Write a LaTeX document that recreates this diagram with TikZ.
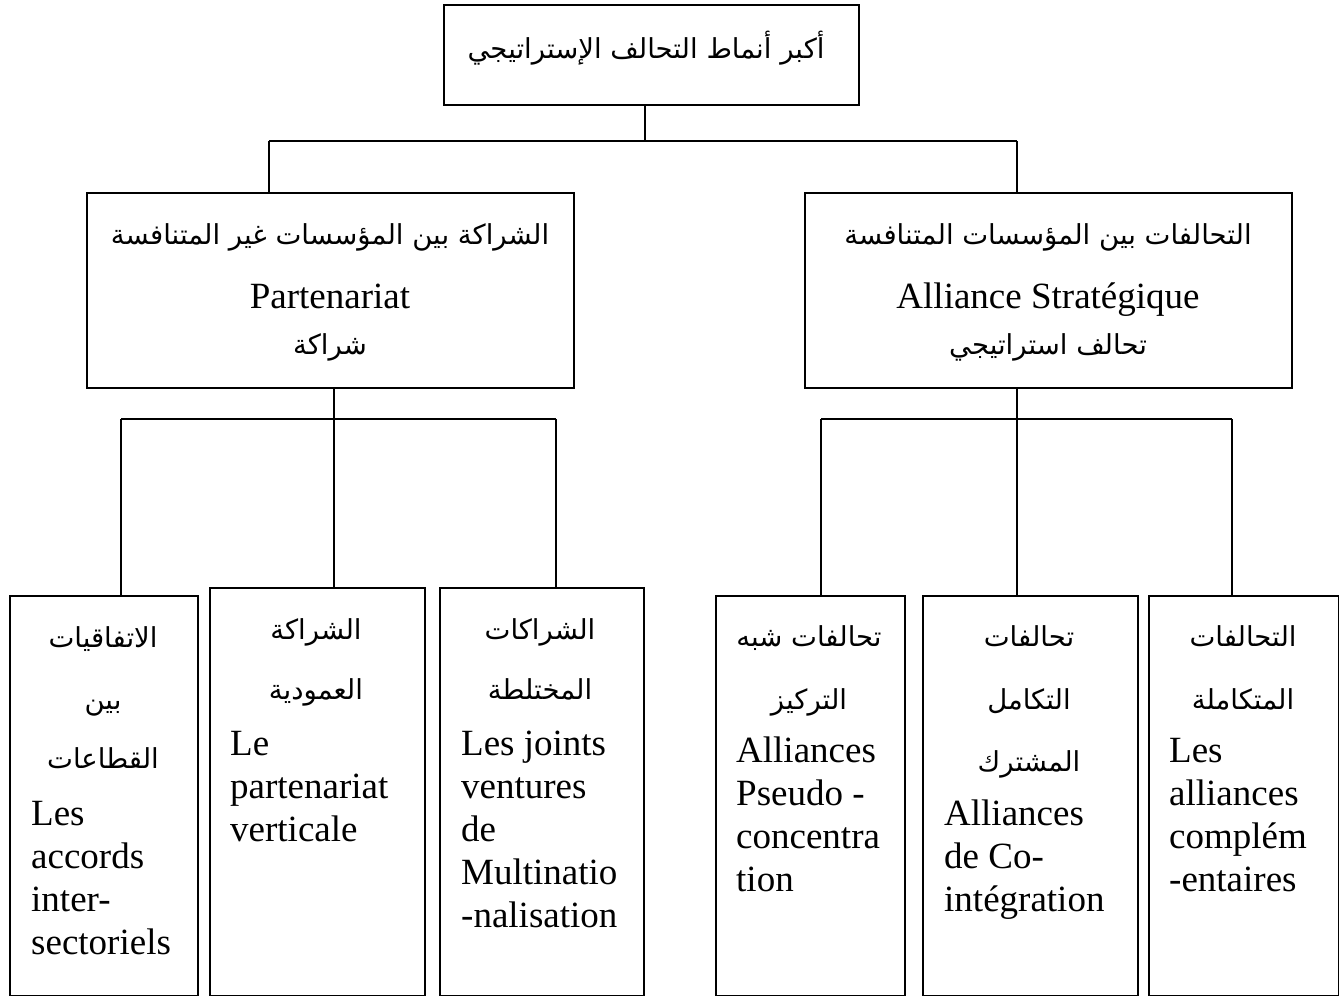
\documentclass[tikz,border=0pt]{standalone}
\usepackage{fontspec}
\setmainfont{Liberation Serif}
\newfontfamily\arabicfont[Script=Arabic]{DejaVu Sans}
\TeXXeTstate=1
\newcommand{\artext}[1]{{\arabicfont\beginR #1\endR}}
\tikzset{
  box/.style={draw, line width=1.7pt, inner sep=0pt, anchor=north west},
  artx/.style={font=\arabicfont\fontsize{27.5}{30}\selectfont, inner sep=0pt, anchor=base},
  lat/.style={font=\fontsize{37}{43}\selectfont, inner sep=0pt, anchor=north west, align=left},
  midlat/.style={font=\fontsize{37}{43}\selectfont, inner sep=0pt, anchor=base},
  conn/.style={line width=1.6pt}
}
\begin{document}
\begin{tikzpicture}[x=1pt,y=-1pt]
\useasboundingbox (0,0) rectangle (1339,996);
% boxes
\node[box, minimum width=415pt, minimum height=100pt] (top) at (443,4) {};
\node[box, minimum width=487pt, minimum height=195pt] (lmid) at (86,192) {};
\node[box, minimum width=487pt, minimum height=195pt] (rmid) at (804,192) {};
\node[box, minimum width=188pt, minimum height=400pt] (b1) at (9,595) {};
\node[box, minimum width=215pt, minimum height=408pt] (b2) at (209,587) {};
\node[box, minimum width=204pt, minimum height=408pt] (b3) at (439,587) {};
\node[box, minimum width=189pt, minimum height=400pt] (b4) at (715,595) {};
\node[box, minimum width=215pt, minimum height=400pt] (b5) at (922,595) {};
\node[box, minimum width=190pt, minimum height=400pt] (b6) at (1148,595) {};
% junction coordinates
\coordinate (tv) at (645,141);
\coordinate (h1L) at (269,141);
\coordinate (h1R) at (1017,141);
\coordinate (h2a) at (121,419);
\coordinate (h2b) at (556,419);
\coordinate (lv) at (334,419);
\coordinate (h3a) at (821,419);
\coordinate (h3b) at (1232,419);
\coordinate (rv) at (1017,419);
% connectors
\draw[conn] (top.south -| tv) -- (tv);
\draw[conn] (h1L) -- (h1R);
\draw[conn] (h1L) -- (h1L |- lmid.north);
\draw[conn] (h1R) -- (h1R |- rmid.north);
\draw[conn] (h2a) -- (h2b);
\draw[conn] (lmid.south -| lv) -- (b2.north -| lv);
\draw[conn] (h2a) -- (h2a |- b1.north);
\draw[conn] (h2b) -- (h2b |- b3.north);
\draw[conn] (h3a) -- (h3b);
\draw[conn] (rmid.south -| rv) -- (b5.north -| rv);
\draw[conn] (h3a) -- (h3a |- b4.north);
\draw[conn] (h3b) -- (h3b |- b6.north);
% top text
\node[artx] (t0) at (646,58) {\artext{أكبر أنماط التحالف الإستراتيجي}};
% middle texts
\node[artx] (lm1) at (330,244) {\artext{الشراكة بين المؤسسات غير المتنافسة}};
\node[midlat] (lm2) at (330,308) {Partenariat};
\node[artx] (lm3) at (330,354) {\artext{شراكة}};
\node[artx] (rm1) at (1048,244) {\artext{التحالفات بين المؤسسات المتنافسة}};
\node[midlat] (rm2) at (1048,308) {Alliance Stratégique};
\node[artx] (rm3) at (1048,354) {\artext{تحالف استراتيجي}};
% bottom box 1
\node[artx] (a11) at (103,647) {\artext{الاتفاقيات}};
\node[artx] (a12) at (103,709) {\artext{بين}};
\node[artx] (a13) at (103,768) {\artext{القطاعات}};
\node[lat] (l1) at (31,794.9) {\strut Les\\accords\\inter-\\sectoriels};
% bottom box 2
\node[artx] (a21) at (316,639) {\artext{الشراكة}};
\node[artx] (a22) at (316,699) {\artext{العمودية}};
\node[lat] (l2) at (230,724.9) {\strut Le\\partenariat\\verticale};
% bottom box 3
\node[artx] (a31) at (540,639) {\artext{الشراكات}};
\node[artx] (a32) at (540,699) {\artext{المختلطة}};
\node[lat] (l3) at (461,724.9) {\strut Les joints\\ventures\\de\\Multinatio\\-nalisation};
% bottom box 4
\node[artx] (a41) at (809,646) {\artext{تحالفات شبه}};
\node[artx] (a42) at (809,709) {\artext{التركيز}};
\node[lat] (l4) at (736,731.9) {\strut Alliances\\Pseudo -\\concentra\\tion};
% bottom box 5
\node[artx] (a51) at (1029,646) {\artext{تحالفات}};
\node[artx] (a52) at (1029,709) {\artext{التكامل}};
\node[artx] (a53) at (1029,771) {\artext{المشترك}};
\node[lat] (l5) at (944,794.9) {\strut Alliances\\de Co-\\intégration};
% bottom box 6
\node[artx] (a61) at (1243,646) {\artext{التحالفات}};
\node[artx] (a62) at (1243,709) {\artext{المتكاملة}};
\node[lat] (l6) at (1169,731.9) {\strut Les\\alliances\\complém\\-entaires};
\end{tikzpicture}
\end{document}
